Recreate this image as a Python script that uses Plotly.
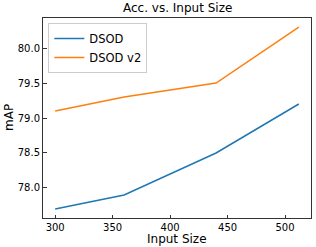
import plotly.graph_objects as go

input_size = [300, 360, 440, 512]
dsod = [77.7, 77.9, 78.5, 79.2]
dsod_v2 = [79.1, 79.3, 79.5, 80.3]
x_ticks = [300, 350, 400, 450, 500]
y_ticks = [78.0, 78.5, 79.0, 79.5, 80.0]

font = "DejaVu Sans"
fig = go.Figure()
fig.add_trace(go.Scatter(x=input_size, y=dsod, mode="lines", name="DSOD",
                         line=dict(color="#1f77b4", width=1.5)))
fig.add_trace(go.Scatter(x=input_size, y=dsod_v2, mode="lines", name="DSOD v2",
                         line=dict(color="#ff7f0e", width=1.5)))

axis_common = dict(showgrid=False, zeroline=False, showline=True, linecolor="#333",
                   linewidth=1, mirror=True, ticks="inside", ticklen=3.5,
                   tickcolor="#333", automargin=False,
                   tickfont=dict(family=font, size=10, color="black"))
fig.update_xaxes(range=[289.4, 522.6], tickvals=x_ticks, ticktext=[str(v) for v in x_ticks],
                 **axis_common)
fig.update_yaxes(range=[77.57, 80.43], tickvals=y_ticks, ticktext=[f"{v:.1f}" for v in y_ticks],
                 **axis_common)
fig.update_layout(
    width=316, height=247,
    margin=dict(l=43, r=5, t=18, b=29, autoexpand=False),
    paper_bgcolor="white", plot_bgcolor="white",
    legend=dict(x=0.02, y=0.975, xanchor="left", yanchor="top", bgcolor="white",
                bordercolor="#ccc", borderwidth=1,
                font=dict(family=font, size=11.5, color="black"),
                itemwidth=30, tracegroupgap=0),
    showlegend=True,
    annotations=[
        dict(text="Acc. vs. Input Size", xref="paper", yref="paper", x=0.5, y=1, yshift=2,
             xanchor="center", yanchor="bottom", showarrow=False, borderpad=0,
             font=dict(family=font, size=12, color="black")),
        dict(text="Input Size", xref="paper", yref="paper", x=0.5, y=0, yshift=-29,
             xanchor="center", yanchor="bottom", showarrow=False, borderpad=0,
             font=dict(family=font, size=12, color="black")),
        dict(text="mAP", xref="paper", yref="paper", x=0, xshift=-42, y=0.5,
             xanchor="left", yanchor="middle", textangle=-90, showarrow=False, borderpad=0,
             font=dict(family=font, size=12, color="black")),
    ],
)
fig.write_html("out.html", config={"displayModeBar": False},
               post_script="document.body.style.margin='0';")
